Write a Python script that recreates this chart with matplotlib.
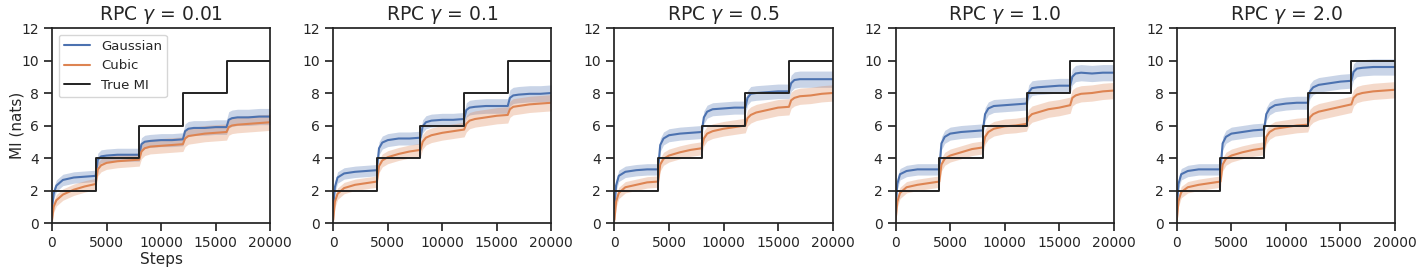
import numpy as np
import matplotlib
matplotlib.use("Agg")
import matplotlib.pyplot as plt
import seaborn as sns

sns.set_theme(style="ticks", context="notebook")
plt.rcParams['font.family'] = ['DejaVu Sans']

gammas = ["0.01", "0.1", "0.5", "1.0", "2.0"]

steps = [0, 150, 400, 1000, 2000, 3000, 4000,
         4200, 4500, 5000, 6000, 7000, 8000,
         8200, 8500, 9000, 10000, 11000, 12000,
         12200, 12500, 13000, 14000, 15000, 16000,
         16200, 16500, 17000, 18000, 19000, 20000]

gauss_001 = [0.9, 1.8, 2.3, 2.65, 2.8, 2.85, 2.9,
             3.9, 4.1, 4.15, 4.2, 4.2, 4.2,
             4.85, 5.0, 5.05, 5.1, 5.1, 5.15,
             5.65, 5.8, 5.85, 5.85, 5.9, 5.9,
             6.35, 6.45, 6.5, 6.5, 6.55, 6.55]
cubic_001 = [0.2, 1.0, 1.4, 1.75, 2.05, 2.25, 2.4,
             3.3, 3.55, 3.7, 3.8, 3.85, 3.9,
             4.4, 4.6, 4.7, 4.75, 4.8, 4.85,
             5.2, 5.35, 5.4, 5.5, 5.55, 5.6,
             5.9, 6.0, 6.05, 6.1, 6.15, 6.2]

gauss_01 = [0.9, 2.2, 2.8, 3.05, 3.15, 3.2, 3.25,
            4.6, 4.95, 5.1, 5.2, 5.2, 5.25,
            5.95, 6.2, 6.3, 6.35, 6.35, 6.4,
            6.95, 7.1, 7.15, 7.2, 7.2, 7.2,
            7.7, 7.85, 7.9, 7.95, 7.95, 8.0]
cubic_01 = [0.2, 1.3, 1.8, 2.15, 2.35, 2.45, 2.55,
            3.5, 3.85, 4.05, 4.25, 4.4, 4.5,
            5.0, 5.25, 5.4, 5.55, 5.65, 5.75,
            6.1, 6.3, 6.4, 6.5, 6.6, 6.65,
            7.0, 7.15, 7.2, 7.3, 7.35, 7.4]

gauss_05 = [0.9, 2.3, 2.9, 3.15, 3.25, 3.3, 3.3,
            4.8, 5.2, 5.4, 5.5, 5.55, 5.6,
            6.5, 6.85, 7.0, 7.05, 7.1, 7.1,
            7.7, 7.95, 8.0, 8.05, 8.1, 8.1,
            8.6, 8.8, 8.85, 8.85, 8.85, 8.85]
cubic_05 = [0.2, 1.3, 1.85, 2.2, 2.35, 2.5, 2.55,
            3.6, 3.95, 4.15, 4.35, 4.5, 4.6,
            5.2, 5.5, 5.65, 5.8, 5.9, 6.0,
            6.45, 6.65, 6.8, 6.95, 7.1, 7.15,
            7.55, 7.7, 7.8, 7.85, 7.95, 8.0]

gauss_10 = [0.9, 2.4, 3.0, 3.2, 3.3, 3.3, 3.3,
            4.9, 5.3, 5.5, 5.6, 5.65, 5.7,
            6.7, 7.05, 7.2, 7.25, 7.3, 7.35,
            8.05, 8.3, 8.35, 8.4, 8.45, 8.45,
            9.0, 9.2, 9.25, 9.2, 9.25, 9.25]
cubic_10 = [0.2, 1.3, 1.85, 2.2, 2.35, 2.45, 2.55,
            3.6, 3.95, 4.15, 4.35, 4.55, 4.65,
            5.3, 5.6, 5.8, 5.95, 6.0, 6.1,
            6.5, 6.7, 6.8, 7.0, 7.1, 7.25,
            7.7, 7.85, 7.95, 8.0, 8.1, 8.15]

gauss_20 = [0.9, 2.4, 3.0, 3.2, 3.3, 3.3, 3.3,
            4.9, 5.3, 5.5, 5.6, 5.7, 5.75,
            6.7, 7.05, 7.25, 7.35, 7.4, 7.4,
            8.1, 8.35, 8.5, 8.6, 8.7, 8.75,
            9.3, 9.5, 9.55, 9.6, 9.6, 9.6]
cubic_20 = [0.2, 1.35, 1.9, 2.2, 2.35, 2.45, 2.55,
            3.6, 3.95, 4.15, 4.35, 4.5, 4.6,
            5.3, 5.6, 5.8, 5.9, 6.0, 6.05,
            6.5, 6.7, 6.85, 7.0, 7.15, 7.3,
            7.7, 7.9, 8.0, 8.1, 8.15, 8.2]

gauss_series = [gauss_001, gauss_01, gauss_05, gauss_10, gauss_20]
cubic_series = [cubic_001, cubic_01, cubic_05, cubic_10, cubic_20]

# band half-width per 4000-step segment
gauss_band = [0.35, 0.4, 0.4, 0.45, 0.5]
cubic_band = [0.35, 0.4, 0.45, 0.5, 0.5]

true_steps = [0, 4000, 8000, 12000, 16000, 20000]
true_mi = [2, 4, 6, 8, 10, 10]

blue = "#4C72B0"
orange = "#DD8452"

fig, axes = plt.subplots(1, 5, figsize=(14.23, 2.71), dpi=100)
fig.subplots_adjust(left=52/1423, right=1395/1423, bottom=48/271, top=243/271,
                    wspace=0.289)

x = np.array(steps)
seg = np.minimum((np.maximum(x - 1, 0)) // 4000, 4).astype(int)

for i, ax in enumerate(axes):
    g = np.array(gauss_series[i])
    c = np.array(cubic_series[i])
    gb = np.array(gauss_band)[seg]
    cb = np.array(cubic_band)[seg]
    ax.fill_between(x, g - gb, g + gb, color=blue, alpha=0.3, linewidth=0)
    ax.fill_between(x, c - cb, c + cb, color=orange, alpha=0.3, linewidth=0)
    ax.plot(x, g, color=blue, lw=1.5, label="Gaussian")
    ax.plot(x, c, color=orange, lw=1.5, label="Cubic")
    ax.step(true_steps, true_mi, where="post", color="#222222", lw=1.4, label="True MI")
    ax.set_xlim(0, 20000)
    ax.set_ylim(0, 12)
    ax.set_xticks([0, 5000, 10000, 15000, 20000])
    ax.set_yticks([0, 2, 4, 6, 8, 10, 12])
    ax.tick_params(labelsize=10)
    ax.set_title(r"RPC $\gamma$ = " + gammas[i], fontsize=13.5)
    for s in ax.spines.values():
        s.set_visible(True)
        s.set_color("#222222")

axes[0].set_xlabel("Steps", fontsize=11, labelpad=1)
axes[0].set_ylabel("MI (nats)", fontsize=11, labelpad=-2.5)
axes[0].legend(loc="upper left", fontsize=9.5, frameon=True)

fig.savefig("out.png", dpi=100)
